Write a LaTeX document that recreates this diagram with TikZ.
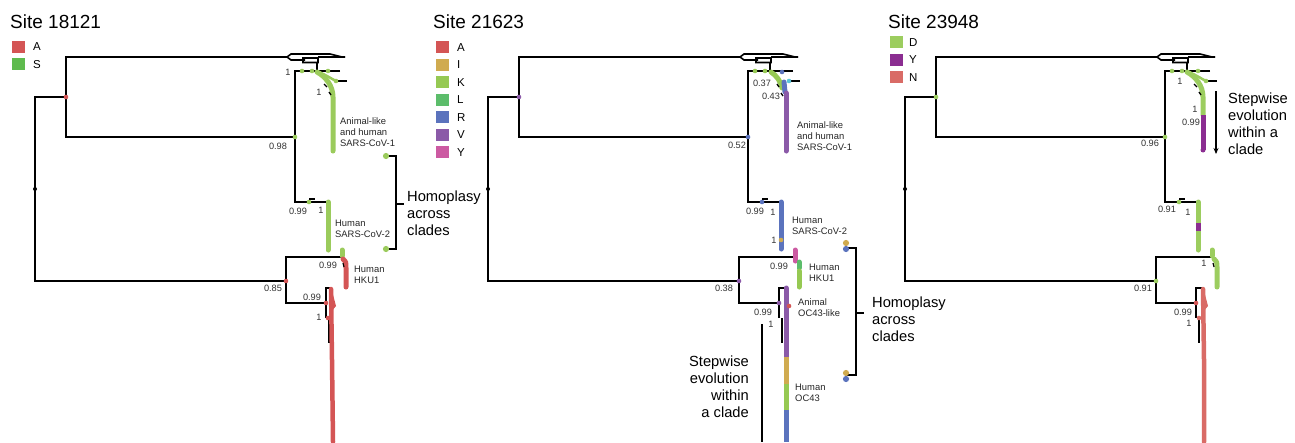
\documentclass[tikz,border=0pt]{standalone}
\usepackage{fontspec}
\setmainfont{Liberation Sans}
\usetikzlibrary{arrows.meta}
\definecolor{cA}{HTML}{D45555}
\definecolor{cS}{HTML}{5FBB4E}
\definecolor{cSb}{HTML}{9BCB5C}
\definecolor{cI}{HTML}{D0AB50}
\definecolor{cK}{HTML}{96C953}
\definecolor{cL}{HTML}{5CBD6B}
\definecolor{cR}{HTML}{5B73BD}
\definecolor{cV}{HTML}{8B5AA8}
\definecolor{cY}{HTML}{CC5AA2}
\definecolor{cCy}{HTML}{5BC4D8}
\definecolor{cD}{HTML}{9CCD5F}
\definecolor{cYY}{HTML}{8B2D91}
\definecolor{cN}{HTML}{D96B66}
\newcommand\ndot[2]{\fill[#1] (#2) circle[radius=2.3];}
\newcommand\bdot[2]{\fill[#1] (#2) circle[radius=3.1];}
\newcommand\mktree[3]{%
\begin{scope}[xshift=#2pt]
\coordinate (#1root) at (35,189);
\coordinate (#1rt) at (35,97);
\coordinate (#1rb) at (35,281);
\coordinate (#1a) at (66,97);
\coordinate (#1at) at (66,57);
\coordinate (#1ab) at (66,137);
\coordinate (#1og) at (287,57);
\coordinate (#1b) at (295,137);
\coordinate (#1bt) at (295,71);
\coordinate (#1bb) at (295,202);
\coordinate (#1c) at (340,71);
\coordinate (#1d) at (326,202);
\coordinate (#1e) at (286,281);
\coordinate (#1et) at (286,257);
\coordinate (#1eb) at (286,303);
\coordinate (#1f) at (342,257);
\coordinate (#1g) at (326,303);
\coordinate (#1gt) at (326,288);
\coordinate (#1gb) at (326,318);
\coordinate (#1gt2) at (332,288);
\coordinate (#1h) at (329,318);
\coordinate (#1hb) at (329,343);
\draw[line width=#3] (#1a) -- (#1rt) -- (#1rb) -- (#1e)
  (#1og) -- (#1at) -- (#1ab) -- (#1b)
  (#1c) -- (#1bt) -- (#1bb) -- (#1d)
  (#1f) -- (#1et) -- (#1eb) -- (#1g)
  (#1gt2) -- (#1gt) -- (#1gb) (#1h) -- (#1hb);
\draw[line width=1.6pt] (287,57) -- (291,54) -- (330,54) -- (340,56.5) -- (330,57)
  (287,57) -- (291,60) -- (305,60) (303,58) rectangle (318,62.5)
  (317,62.5) -- (317,71) (318,57) -- (345,57);
\fill (#1root) circle[radius=2];
\end{scope}}
\begin{document}
\begin{tikzpicture}[x=1pt,y=-1pt,
  title/.style={font=\fontsize{19}{22}\selectfont, anchor=base west, inner sep=0},
  leg/.style={font=\fontsize{11.5}{13}\selectfont, anchor=base west, inner sep=0},
  num/.style={font=\fontsize{9.2}{10}\selectfont, inner sep=0, text=black!80},
  clade/.style={font=\fontsize{9.4}{11}\selectfont, align=left, anchor=base west, inner sep=0, text=black!85},
  big/.style={font=\fontsize{14.7}{17}\selectfont, align=left, anchor=base west, inner sep=0},
  bar/.style={line width=5pt, line cap=round},
  brk/.style={line width=2pt},
]
\useasboundingbox (0,0) rectangle (1295,442);

% ================= Panel 1 =================
\node[title] (t1) at (10,28) {Site 18121};
\fill[cA] (12,40.5) rectangle (25,52.5);
\fill[cS] (12,58) rectangle (25,70);
\node[leg] (l1a) at (33,50.6) {A};
\node[leg] (l1s) at (33,68.1) {S};
\mktree{p}{0}{2pt}
% top spray
\draw[bar,cSb] (317,72) .. controls (326,77) and (333,86) .. (333,97) -- (333,151);
\draw[cSb, line width=2.5pt] (319,72) .. controls (326,75) and (332,79) .. (336,81);
\draw[line width=1.2pt] (336,81) -- (347,81);
\draw[line width=1.3pt] (324,84) -- (327,87) (329,92) -- (331,95);
\ndot{cSb}{302,71}\ndot{cSb}{312,71}\ndot{cSb}{328,71}\ndot{cSb}{336,81}
\ndot{cA}{pa}\ndot{cSb}{pb}\ndot{cA}{pe}\ndot{cA}{pg}
% SARS-CoV-2
\ndot{cSb}{309,202}
\draw[line width=1.3pt] (309,199) -- (315,199);
\draw[bar,cSb] (328,202) -- (328,250);
% HKU1
\draw[bar,cSb] (342,250) -- (342,256);
\draw[bar,cA] (343,259) .. controls (346,262) .. (346,268) -- (346,287);
\draw[line width=1.2pt] (343,263) -- (344,267);
% bottom clade
\draw[bar,cA,line width=4.5pt] (331,289) -- (332,360) -- (333,442);
\fill[cA] (331,287) -- (329,300) -- (331,312) -- (336,306) -- cycle;
\ndot{cA}{328,318}
% homoplasy bracket
\coordinate (hp1t) at (386,156);
\coordinate (hp1b) at (386,249);
\coordinate (hp1m) at (396,204);
\coordinate (hp1k) at (404,204);
\draw[brk] (hp1t) -- (396,156) -- (396,249) -- (hp1b);
\draw[brk] (hp1m) -- (hp1k);
\bdot{cSb}{hp1t}\bdot{cSb}{hp1b}
\node[big] (h1) at (407,235.5) {Homoplasy\\across\\clades};
% labels
\node[num] (n1a) at (288,72) {1};
\node[num] (n1b) at (319,92) {1};
\node[num] (n1c) at (278,146) {0.98};
\node[num] (n1d) at (298,211) {0.99};
\node[num] (n1e) at (321,210) {1};
\node[num] (n1f) at (328,265) {0.99};
\node[num] (n1g) at (273,288) {0.85};
\node[num] (n1h) at (312,297) {0.99};
\node[num] (n1i) at (319,317) {1};
\node[clade] (c1a) at (340,146) {Animal-like\\and human\\SARS-CoV-1};
\node[clade] (c1b) at (335,237) {Human\\SARS-CoV-2};
\node[clade] (c1c) at (354,283) {Human\\HKU1};

% ================= Panel 2 =================
\node[title] (t2) at (433,28) {Site 21623};
\fill[cA] (436,41) rectangle (449,53);
\fill[cI] (436,58.5) rectangle (449,70.5);
\fill[cK] (436,76) rectangle (449,88);
\fill[cL] (436,93.5) rectangle (449,105.5);
\fill[cR] (436,111) rectangle (449,123);
\fill[cV] (436,128.5) rectangle (449,140.5);
\fill[cY] (436,146) rectangle (449,158);
\node[leg] (l2a) at (457,51.1) {A};
\node[leg] (l2i) at (457,68.6) {I};
\node[leg] (l2k) at (457,86.1) {K};
\node[leg] (l2l) at (457,103.6) {L};
\node[leg] (l2r) at (457,121.1) {R};
\node[leg] (l2v) at (457,138.6) {V};
\node[leg] (l2y) at (457,156.1) {Y};
\mktree{q}{453}{2.8pt}
% top spray
\draw[bar,cK] (771,72) .. controls (777,76) and (781,82) .. (782,88);
\draw[bar,cR] (784,82) -- (785,92);
\draw[bar,cV] (786,93) -- (786,151);
\draw[line width=1.2pt] (789,81) -- (800,81);
\draw[line width=1.3pt] (777,84) -- (779,87) (781,93) -- (783,96);
\ndot{cK}{755,71}\ndot{cK}{765,71}\ndot{cR}{782,72}\ndot{cCy}{789,81}
\ndot{cV}{qa}\ndot{cR}{qb}\ndot{cV}{qe}\ndot{cV}{qg}
% SARS-CoV-2
\ndot{cR}{762,202}
\draw[line width=1.5pt] (762,199) -- (768,199);
\draw[bar,cR] (781,202) -- (781,249);
\ndot{cI}{781,240}
% HKU1
\draw[bar,cY] (795,250) -- (795,261);
\draw[bar,cL] (799,262) -- (799,268);
\draw[bar,cK] (799,271) -- (799,287);
% bottom clade
\draw[bar,cV] (786,288) -- (786,357);
\draw[cI,line width=5pt] (786,357) -- (786,384);
\draw[cK,line width=5pt] (786,384) -- (786,410);
\draw[cR,line width=5pt] (786,410) -- (786,442);
\ndot{cA}{789,306}
% homoplasy bracket
\coordinate (hp2t) at (846,248);
\coordinate (hp2b) at (846,375);
\coordinate (hp2m) at (856,313);
\coordinate (hp2k) at (864,313);
\draw[brk] (hp2t) -- (856,248) -- (856,375) -- (hp2b);
\draw[brk] (hp2m) -- (hp2k);
\bdot{cI}{846,243}\bdot{cR}{846,249}
\bdot{cI}{846,373}\bdot{cR}{846,379}
\node[big] (h2) at (872,341) {Homoplasy\\across\\clades};
% stepwise
\coordinate (sw2t) at (762,324);
\coordinate (sw2b) at (762,442);
\draw[line width=2.4pt] (sw2t) -- (sw2b);
\node[big, align=right, anchor=base east] (s2) at (749,417) {Stepwise\\evolution\\within\\a clade};
% labels
\node[num] (n2a) at (762,83) {0.37};
\node[num] (n2b) at (771,96) {0.43};
\node[num] (n2c) at (737,145) {0.52};
\node[num] (n2d) at (755,211) {0.99};
\node[num] (n2e) at (773,212) {1};
\node[num] (n2f) at (774,240) {1};
\node[num] (n2g) at (779,266) {0.99};
\node[num] (n2h) at (724,288) {0.38};
\node[num] (n2i) at (763,312) {0.99};
\node[num] (n2j) at (771,324) {1};
\node[clade] (c2a) at (797,150) {Animal-like\\and human\\SARS-CoV-1};
\node[clade] (c2b) at (792,234) {Human\\SARS-CoV-2};
\node[clade] (c2c) at (809,281) {Human\\HKU1};
\node[clade] (c2d) at (798,316) {Animal\\OC43-like};
\node[clade] (c2e) at (795,401) {Human\\OC43};

% ================= Panel 3 =================
\node[title] (t3) at (888,28) {Site 23948};
\fill[cD] (890,36) rectangle (903,48);
\fill[cYY] (890,53.5) rectangle (903,65.5);
\fill[cN] (890,71) rectangle (903,83);
\node[leg] (l3d) at (909,46.1) {D};
\node[leg] (l3y) at (909,63.6) {Y};
\node[leg] (l3n) at (909,81.1) {N};
\mktree{r}{870}{2pt}
% top spray
\draw[bar,cD] (1187,72) .. controls (1196,77) and (1203,86) .. (1203,97) -- (1203,115);
\draw[cYY,line width=5pt] (1203,115) -- (1203,150);
\fill[cYY] (1203,150) circle[radius=2.5];
\draw[cD, line width=2.5pt] (1189,72) .. controls (1196,75) and (1202,79) .. (1206,81);
\draw[line width=1.2pt] (1206,81) -- (1217,81);
\draw[line width=1.3pt] (1194,84) -- (1197,87) (1199,92) -- (1201,95);
\ndot{cD}{1172,71}\ndot{cD}{1182,71}\ndot{cD}{1198,71}\ndot{cD}{1206,81}
\ndot{cD}{ra}\ndot{cD}{rb}\ndot{cD}{re}\ndot{cA}{rg}
% SARS-CoV-2
\ndot{cD}{1179,202}
\draw[line width=1.3pt] (1179,199) -- (1185,199);
\draw[bar,cD] (1198,202) -- (1198,250);
\draw[cYY,line width=5pt] (1198,223) -- (1198,231);
% HKU1-like
\draw[bar,cD] (1212,250) -- (1212,256);
\draw[bar,cD] (1214,259) .. controls (1217,262) .. (1217,268) -- (1217,287);
\draw[line width=1.2pt] (1213,263) -- (1214,267);
% bottom clade
\draw[bar,cN,line width=4.5pt] (1203,289) -- (1204,360) -- (1204,442);
\fill[cN] (1203,287) -- (1201,300) -- (1203,312) -- (1208,306) -- cycle;
\ndot{cN}{1199,318}
% stepwise arrow
\coordinate (sw3t) at (1216,91);
\coordinate (sw3b) at (1216,154);
\draw[line width=1.6pt, -{Stealth[length=6pt,width=5pt]}] (sw3t) -- (sw3b);
\node[big] (s3) at (1228,154) {Stepwise\\evolution\\within a\\clade};
% labels
\node[num] (n3a) at (1180,81) {1};
\node[num] (n3b) at (1195,109) {1};
\node[num] (n3c) at (1191,122) {0.99};
\node[num] (n3d) at (1150,143) {0.96};
\node[num] (n3e) at (1167,209) {0.91};
\node[num] (n3f) at (1188,212) {1};
\node[num] (n3g) at (1204,263) {1};
\node[num] (n3h) at (1143,288) {0.91};
\node[num] (n3i) at (1183,312) {0.99};
\node[num] (n3j) at (1189,323) {1};
\end{tikzpicture}
\end{document}
